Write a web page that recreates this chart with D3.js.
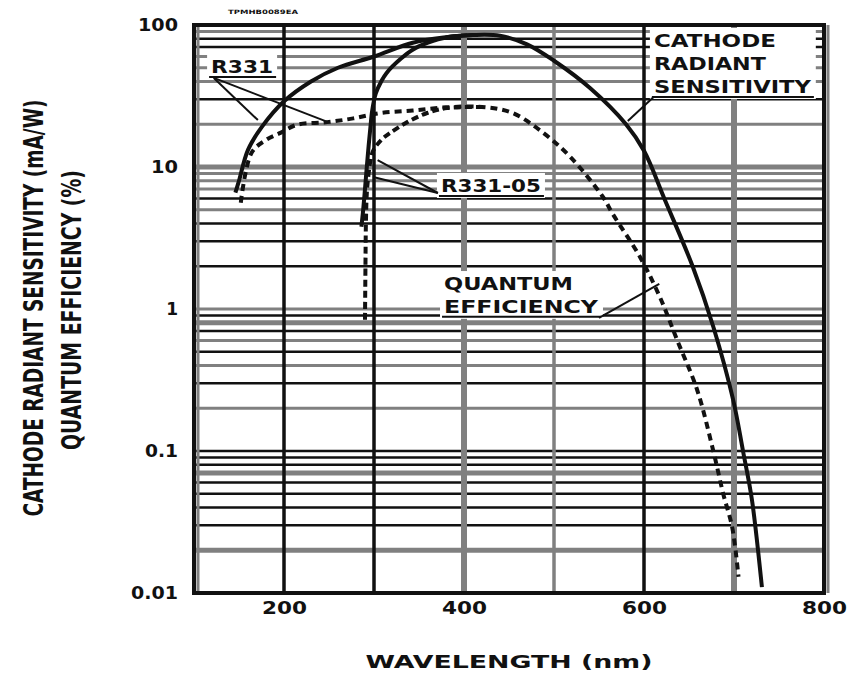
<!DOCTYPE html>
<html>
<head>
<meta charset="utf-8">
<script src="https://cdn.jsdelivr.net/npm/d3@7"></script>
<style>
    body { margin: 0; background: #fff; }
    svg text { font-family: "DejaVu Sans", "Liberation Sans", Arial, sans-serif; font-weight: bold; fill: #111; }
</style>
</head>
<body>
<div id="chart"></div>
<script>
/* ----------------------- Data ----------------------- */
const xTicks = [200, 400, 600, 800];
const yTicks = [0.01, 0.1, 1, 10, 100];
const yTickLabels = ["0.01", "0.1", "1", "10", "100"];
const vGrid = [200, 300, 400, 500, 600, 700];

// [wavelength nm, value]
const r331Sens = [[146, 6.6], [150, 8], [160, 13.2], [175, 19], [200, 29], [230, 40], [260, 50], [300, 60],
    [343, 75], [380, 82], [410, 85], [440, 84], [470, 73], [500, 56], [540, 36], [580, 20], [600, 13],
    [623, 5.9], [654, 2.0], [677, 0.75], [699, 0.23], [710, 0.1], [720, 0.045], [731, 0.011]];
const r331QE = [[152, 5.6], [164, 12.6], [180, 15.5], [196, 17.4], [214, 19.8], [248, 20.7], [277, 22],
    [307, 24], [343, 25], [380, 26.3], [420, 26.5], [454, 24], [488, 17.4], [518, 11.8], [554, 6.2],
    [565, 4.7], [596, 2.3], [618, 1.2], [637, 0.6], [659, 0.27], [677, 0.1], [688, 0.05], [698, 0.029], [705, 0.013]];
const r33105Sens = [[286, 3.8], [288, 5], [290, 7], [292, 10], [294, 14], [296, 19], [298, 25], [302, 33],
    [308, 40], [314, 46], [330, 58], [343, 67], [360, 75], [381, 82], [410, 85]];
const r33105QE = [[290, 0.84], [290.5, 2], [291, 4], [292, 6.5], [294, 9], [296, 11], [299, 13], [308, 15.5],
    [318, 17.4], [337, 20.7], [359, 24], [381, 26], [420, 26.5]];

// labels: left edge (nm) and baseline values per line
const labels = [
    { lines: ["R331"], x: 119, y: [45.9], widths: [62] },
    { lines: ["R331-05"], x: 374.4, y: [6.67], widths: [100] },
    { lines: ["QUANTUM", "EFFICIENCY"], x: 377.8, y: [1.36, 0.94], widths: [129, 154] },
    { lines: ["CATHODE", "RADIANT", "SENSITIVITY"], x: 611, y: [70, 48.2, 33.2], widths: [122, 112, 157] }
];
const leaders = [
    [[122, 42.4], [171, 21.4]],
    [[122, 42.4], [249, 20.7]],
    [[371, 6.56], [304, 11.2]],
    [[371, 6.56], [299, 8.5]],
    [[550, 0.865], [617, 1.5]],
    [[611, 31.2], [582, 21.1]]
];

/* ----------------------- Setup ----------------------- */
const W = 848, H = 675;
const svg = d3.select("#chart").append("svg").attr("width", W).attr("height", H);

const x = d3.scaleLinear().domain([100, 800]).range([194, 824]);
const y = d3.scaleLog().domain([0.01, 100]).range([593, 25]);

const BLACK = "#111", GREY = "#808080";
const greyH = new Set([0.02, 0.07, 0.2, 0.4, 0.6, 0.8, 1, 5, 7, 8, 9, 10, 20, 40, 50, 60, 90]);
const thickH = new Set([0.02, 0.07, 0.8, 10]);

/* ----------------------- Grid ----------------------- */
const hVals = [];
[0.01, 0.1, 1, 10].forEach(d => { for (let k = 1; k <= 9; k++) if (!(d === 0.01 && k === 1)) hVals.push(+(d * k).toPrecision(2)); });

const grid = svg.append("g");
grid.selectAll(".h").data(hVals).enter().append("line")
    .attr("x1", x(100)).attr("x2", x(800))
    .attr("y1", d => y(d)).attr("y2", d => y(d))
    .attr("stroke", d => greyH.has(d) ? GREY : BLACK)
    .attr("stroke-width", d => thickH.has(d) ? 5 : (greyH.has(d) ? 3 : 2.6));

const greyV = new Set([400, 500, 700]);
grid.selectAll(".v").data(vGrid).enter().append("line")
    .attr("y1", y(100)).attr("y2", y(0.01))
    .attr("x1", d => x(d)).attr("x2", d => x(d))
    .attr("stroke", d => greyV.has(d) ? GREY : BLACK)
    .attr("stroke-width", d => d === 400 || d === 700 ? 6 : 3.5);

// frame
grid.append("line").attr("x1", x(100) + 4).attr("x2", x(100) + 4).attr("y1", y(100)).attr("y2", y(0.01))
    .attr("stroke", GREY).attr("stroke-width", 3);
grid.append("line").attr("x1", x(800) + 4).attr("x2", x(800) + 4).attr("y1", y(100)).attr("y2", y(0.01))
    .attr("stroke", GREY).attr("stroke-width", 3);
grid.append("rect").attr("x", x(100)).attr("y", y(100))
    .attr("width", x(800) - x(100)).attr("height", y(0.01) - y(100))
    .attr("fill", "none").attr("stroke", BLACK).attr("stroke-width", 4);

/* ----------------------- Curves ----------------------- */
const line = d3.line().x(d => x(d[0])).y(d => y(d[1])).curve(d3.curveCatmullRom.alpha(0.5));
const curves = [
    { data: r331Sens, dash: null },
    { data: r33105Sens, dash: null },
    { data: r331QE, dash: "7,5" },
    { data: r33105QE, dash: "7,4" }
];
svg.append("g").selectAll("path").data(curves).enter().append("path")
    .attr("d", d => line(d.data))
    .attr("fill", "none").attr("stroke", BLACK).attr("stroke-width", 4)
    .attr("stroke-dasharray", d => d.dash);

/* ----------------------- Labels ----------------------- */
const lab = svg.append("g");
labels.forEach(l => {
    const g = lab.append("g");
    const box = g.append("rect").attr("fill", "#fff");
    l.lines.forEach((t, i) => {
        g.append("text").attr("x", x(l.x)).attr("y", y(l.y[i]))
            .attr("font-size", 17).attr("textLength", l.widths[i])
            .attr("lengthAdjust", "spacingAndGlyphs").text(t);
    });
    const bb = g.node().getBBox();
    box.attr("x", bb.x - 4).attr("y", bb.y - 3).attr("width", bb.width + 8).attr("height", bb.height + 5);
    const last = l.lines.length - 1;
    g.append("line").attr("x1", x(l.x) - 2).attr("x2", x(l.x) + l.widths[last] + 3)
        .attr("y1", y(l.y[last]) + 4).attr("y2", y(l.y[last]) + 4)
        .attr("stroke", BLACK).attr("stroke-width", 2);
});
lab.selectAll(".leader").data(leaders).enter().append("line")
    .attr("x1", d => x(d[0][0])).attr("y1", d => y(d[0][1]))
    .attr("x2", d => x(d[1][0])).attr("y2", d => y(d[1][1]))
    .attr("stroke", BLACK).attr("stroke-width", 2);

/* ----------------------- Axes ----------------------- */
const xAxis = svg.append("g").attr("transform", `translate(0,${y(0.01) + 6})`)
    .call(d3.axisBottom(x).tickValues(xTicks).tickSize(0).tickPadding(0));
xAxis.select(".domain").remove();
xAxis.selectAll("text").attr("font-family", null).attr("font-size", 17).attr("fill", BLACK)
    .attr("dy", "0.9em").attr("textLength", 45).attr("lengthAdjust", "spacingAndGlyphs");

const yLabelWidth = { "0.01": 47, "0.1": 33, "10": 27, "100": 40 };
const yAxis = svg.append("g").attr("transform", `translate(${x(100) - 16},0)`)
    .call(d3.axisLeft(y).tickValues(yTicks).tickSize(0).tickPadding(0).tickFormat((d, i) => yTickLabels[i]));
yAxis.select(".domain").remove();
yAxis.selectAll("text").attr("font-family", null).attr("font-size", 17).attr("fill", BLACK)
    .each(function (d, i) {
        const w = yLabelWidth[yTickLabels[i]];
        if (w) d3.select(this).attr("textLength", w).attr("lengthAdjust", "spacingAndGlyphs");
    });

svg.append("text").attr("x", (x(100) + x(800)) / 2).attr("y", 668).attr("text-anchor", "middle")
    .attr("font-size", 17).attr("textLength", 287).attr("lengthAdjust", "spacingAndGlyphs")
    .text("WAVELENGTH (nm)");

// condensed, tall titles: smaller font stretched across the baseline
svg.append("text").attr("transform", "translate(43,308) rotate(-90) scale(1,1.3)").attr("text-anchor", "middle")
    .attr("font-size", 20).attr("textLength", 417).attr("lengthAdjust", "spacingAndGlyphs")
    .text("CATHODE RADIANT SENSITIVITY (mA/W)");
svg.append("text").attr("transform", "translate(81,310) rotate(-90) scale(1,1.3)").attr("text-anchor", "middle")
    .attr("font-size", 20).attr("textLength", 280).attr("lengthAdjust", "spacingAndGlyphs")
    .text("QUANTUM EFFICIENCY (%)");

svg.append("text").attr("x", 228).attr("y", 14).attr("font-size", 6).attr("textLength", 70)
    .attr("lengthAdjust", "spacingAndGlyphs").attr("fill", "#333").text("TPMHB0089EA");
</script>
</body>
</html>
